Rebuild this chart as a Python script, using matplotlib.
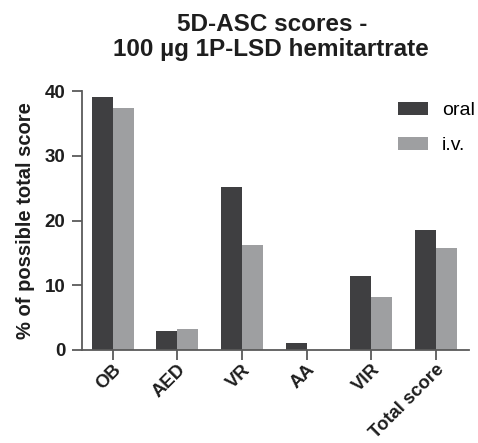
import matplotlib.pyplot as plt
import matplotlib.transforms as mtransforms
import numpy as np

plt.rcParams['font.family'] = ['Liberation Sans', 'DejaVu Sans']

categories = ['OB', 'AED', 'VR', 'AA', 'VIR', 'Total score']
oral = [39.1, 2.9, 25.1, 1.1, 11.5, 18.6]
iv = [37.4, 3.2, 16.2, 0.0, 8.2, 15.8]

dark = '#3f3f41'
light = '#9e9fa1'
axcol = '#5a5a5a'
txt = '#1e1e1e'

fig = plt.figure(figsize=(4.78, 4.43), dpi=100)
ax = fig.add_axes([82/478, 1-350/443, 387/478, 259/443])

x = np.arange(len(categories))
w = 0.325
ax.bar(x - w/2, oral, w, color=dark, label='oral')
ax.bar(x + w/2, iv, w, color=light, label='i.v.')

ax.set_xlim(-0.475, 5.515)
ax.set_ylim(0, 40)
ax.set_yticks([0, 10, 20, 30, 40])
ax.set_xticks(x)
ax.set_xticklabels(categories, rotation=45, ha='right', va='top',
                   rotation_mode='anchor', fontsize=13.3, fontweight='bold', color=txt)
# nudge the rotated labels a little to the right, like the original
offset = mtransforms.ScaledTranslation(4/100, 0, fig.dpi_scale_trans)
for lab in ax.get_xticklabels():
    lab.set_transform(lab.get_transform() + offset)
for lab in ax.get_yticklabels():
    lab.set_fontsize(13.5)
    lab.set_fontweight('bold')
    lab.set_color(txt)

for s in ['top', 'right']:
    ax.spines[s].set_visible(False)
for s in ['left', 'bottom']:
    ax.spines[s].set_color(axcol)
    ax.spines[s].set_linewidth(1.3)
ax.tick_params(axis='both', color=axcol, width=1.3, length=7)
ax.tick_params(axis='y', pad=5)
ax.tick_params(axis='x', pad=1)

ax.set_ylabel('% of possible total score', fontsize=14.5, fontweight='bold',
              color=txt, labelpad=7)

fig.text(272/478, 1-31/443, '5D-ASC scores -', ha='center', va='baseline',
         fontsize=17.5, fontweight='bold', color=txt)
fig.text(271/478, 1-56/443, '100 µg 1P-LSD hemitartrate', ha='center', va='baseline',
         fontsize=17.5, fontweight='bold', color=txt)

ax.legend(loc='upper left', bbox_to_anchor=(398/478, 1-102/443),
          bbox_transform=fig.transFigure, frameon=False, borderpad=0,
          borderaxespad=0, fontsize=14, handlelength=1.55, handleheight=0.67,
          labelspacing=0.9, handletextpad=0.7)

fig.savefig('out.png', dpi=100)
